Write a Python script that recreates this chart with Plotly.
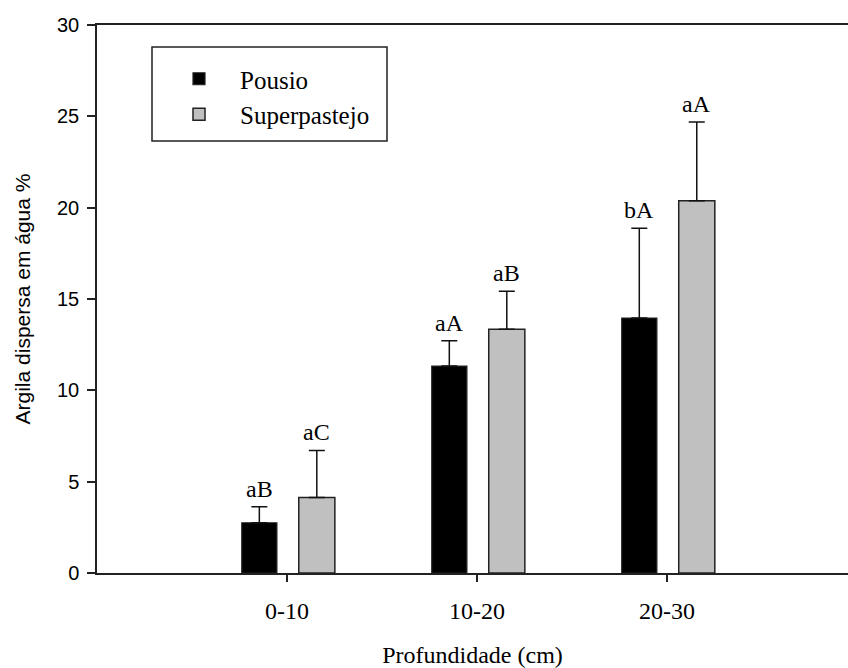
import plotly.graph_objects as go

categories = ["0-10", "10-20", "20-30"]
pousio = [2.75, 11.33, 13.96]
pousio_err = [0.88, 1.38, 4.91]
super_ = [4.14, 13.34, 20.38]
super_err = [2.57, 2.09, 4.31]
pousio_labels = ["aB", "aA", "bA"]
super_labels = ["aC", "aB", "aA"]
y_ticks = [0, 5, 10, 15, 20, 25, 30]

SERIF = "Liberation Serif, Times New Roman, serif"
SANS = "Liberation Sans, Arial, sans-serif"

W_P, OFF_P = 0.185, -0.238
W_S, OFF_S = 0.19, 0.062

# plot area geometry (pixels) for paper conversions
PL, PR, PT, PB = 97, 848, 25, 573
def px_x(p):
    return (p - PL) / (PR - PL)
def px_y(p):
    return (PB - p) / (PB - PT)

fig = go.Figure()
fig.add_trace(go.Bar(
    x=categories, y=pousio, name="Pousio",
    width=W_P, offset=OFF_P,
    marker=dict(color="black", line=dict(color="#222", width=1.2)),
    error_y=dict(type="data", array=pousio_err, arrayminus=[0]*3, symmetric=False,
                 color="#111", thickness=1.5, width=8),
    legendgroup="p",
))
fig.add_trace(go.Bar(
    x=categories, y=super_, name="Superpastejo",
    width=W_S, offset=OFF_S,
    marker=dict(color="#c0c0c0", line=dict(color="#222", width=1.5)),
    error_y=dict(type="data", array=super_err, arrayminus=[0]*3, symmetric=False,
                 color="#111", thickness=1.5, width=8),
    legendgroup="s",
))

for i, c in enumerate(categories):
    fig.add_annotation(x=i + OFF_P + W_P / 2, y=pousio[i] + pousio_err[i], text=pousio_labels[i],
                       showarrow=False, yanchor="bottom", yshift=3,
                       font=dict(family=SERIF, size=24, color="black"))
    fig.add_annotation(x=i + OFF_S + W_S / 2, y=super_[i] + super_err[i], text=super_labels[i],
                       showarrow=False, yanchor="bottom", yshift=3,
                       font=dict(family=SERIF, size=24, color="black"))

# legend frame
fig.add_shape(type="rect", xref="paper", yref="paper",
              x0=px_x(152), x1=px_x(387), y0=px_y(141), y1=px_y(47),
              line=dict(color="#222", width=1.5), fillcolor="rgba(0,0,0,0)", layer="above")

fig.update_layout(
    width=848, height=668,
    margin=dict(l=PL, r=848 - PR, t=PT, b=668 - PB),
    plot_bgcolor="white", paper_bgcolor="white",
    barmode="overlay",
    showlegend=True,
    legend=dict(x=px_x(158), y=px_y(56), xanchor="left", yanchor="top",
                borderwidth=0, bgcolor="rgba(0,0,0,0)",
                font=dict(family=SERIF, size=25, color="black"),
                itemwidth=72, tracegroupgap=0, traceorder="normal"),
    xaxis=dict(
        type="category", categoryorder="array", categoryarray=categories,
        range=[-1, 2.953], showline=True, linecolor="#222", linewidth=1.5, mirror=True,
        ticks="outside", ticklen=7, tickwidth=1.5, tickcolor="#222",
        showgrid=False, zeroline=False, ticklabelstandoff=8,
        tickfont=dict(family=SERIF, size=24, color="black"),
        title=dict(text="Profundidade (cm)", font=dict(family=SERIF, size=24, color="black"), standoff=26),
    ),
    yaxis=dict(
        range=[0, 30], tickvals=y_ticks, showline=True, linecolor="#222", linewidth=1.5,
        ticks="outside", ticklen=8, tickwidth=1.5, tickcolor="#222",
        showgrid=False, zeroline=False, ticklabelstandoff=4,
        tickfont=dict(family=SANS, size=20, color="black"),
        title=dict(text="Argila dispersa em água %", font=dict(family=SANS, size=21, color="black"), standoff=21),
    ),
)

fig.write_html("out.html")
